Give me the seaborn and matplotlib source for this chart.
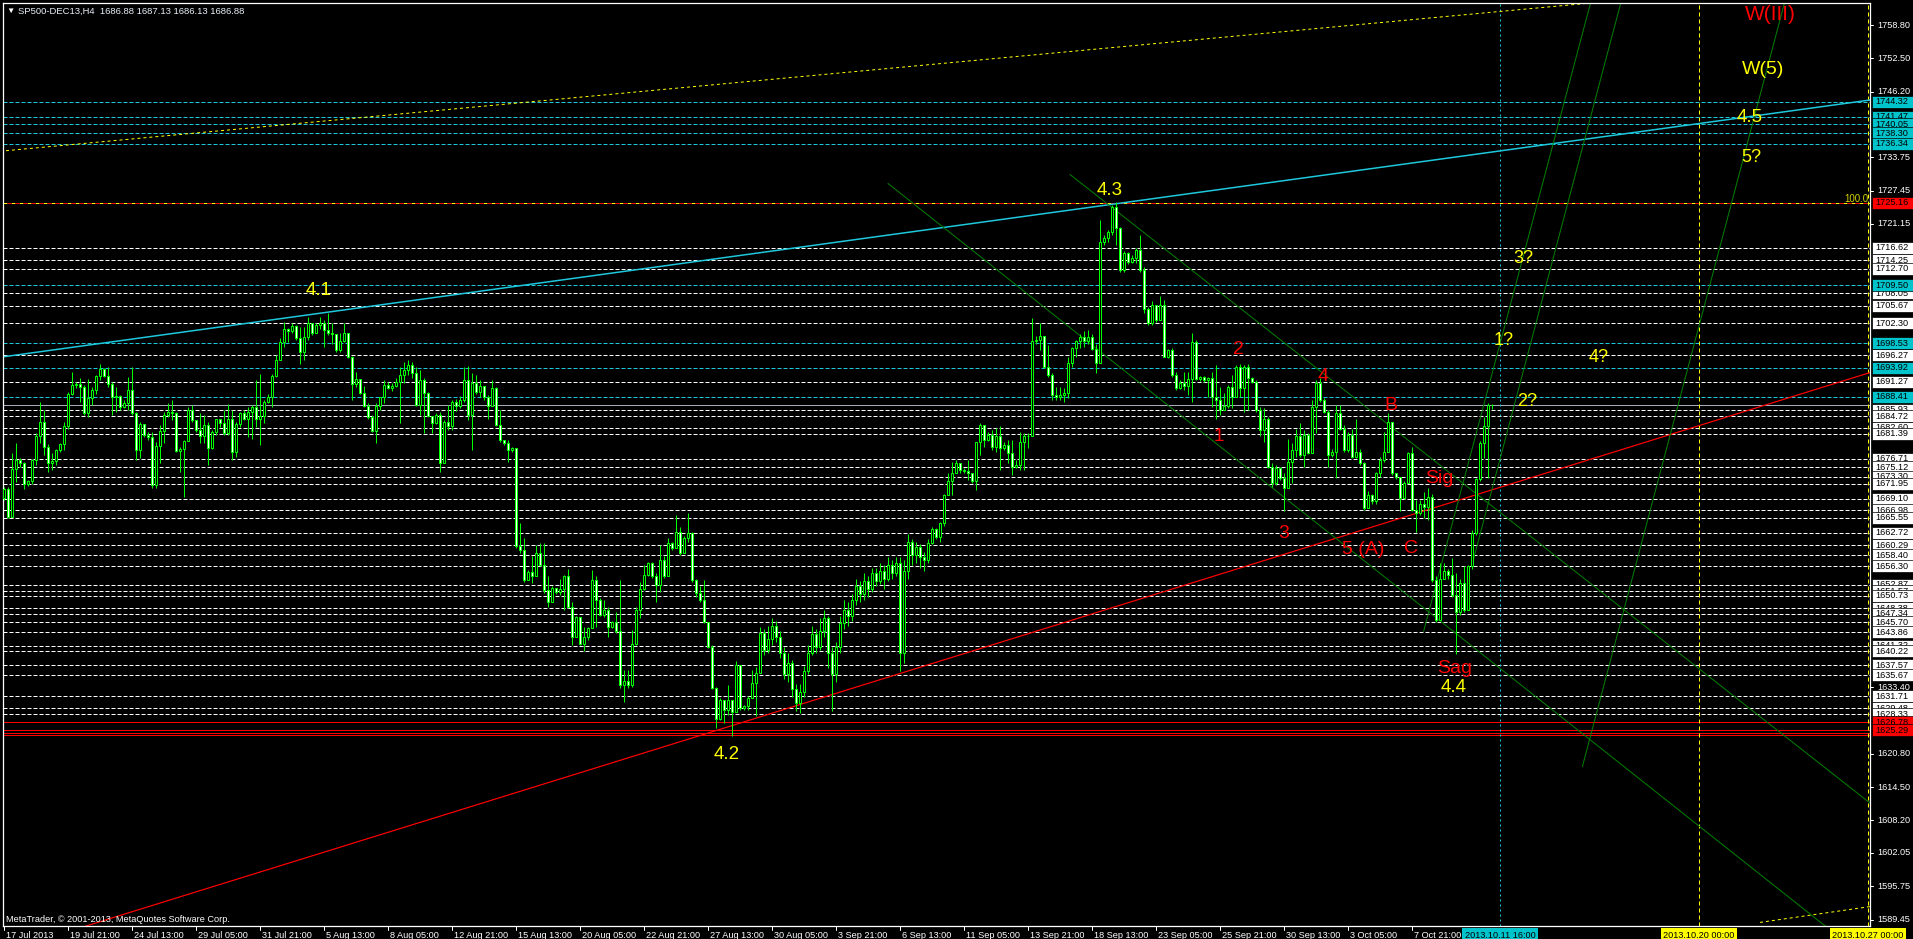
import numpy as np
import matplotlib
matplotlib.use("Agg")
import matplotlib.pyplot as plt
import matplotlib.transforms as mtransforms
from matplotlib.patches import Rectangle
import seaborn as sns

# SP500-DEC13 H4 bars (index = bar number from 17 Jul 2013 00:00)
first_open = 1669.2
close = [
    1670.9, 1665.7, 1674.7, 1676.4, 1675.8, 1671.9, 1672.5, 1676.4, 1681.0, 1683.7,
    1679.0, 1675.8, 1676.2, 1678.3, 1679.5, 1682.9, 1688.9, 1690.6, 1690.8, 1690.3,
    1685.4, 1688.2, 1689.7, 1692.3, 1693.6, 1692.4, 1690.8, 1688.3, 1688.5, 1686.5,
    1687.3, 1689.7, 1685.3, 1678.3, 1683.2, 1681.2, 1680.8, 1671.7, 1679.1, 1681.9,
    1685.0, 1685.6, 1685.3, 1678.2, 1678.6, 1680.1, 1685.9, 1684.0, 1682.1, 1681.0,
    1683.1, 1678.8, 1681.7, 1684.2, 1683.5, 1681.5, 1684.3, 1678.0, 1683.2, 1685.3,
    1684.3, 1685.6, 1686.5, 1684.3, 1684.8, 1687.5, 1688.3, 1692.3, 1695.4, 1698.7,
    1701.2, 1700.9, 1701.9, 1699.5, 1696.9, 1699.8, 1702.3, 1700.5, 1702.0, 1702.3,
    1701.0, 1700.4, 1700.3, 1697.3, 1699.0, 1700.4, 1695.9, 1690.8, 1691.7, 1689.2,
    1686.6, 1684.5, 1682.0, 1686.6, 1688.3, 1690.7, 1690.0, 1690.5, 1691.3, 1692.5,
    1693.5, 1694.5, 1693.0, 1686.9, 1691.6, 1689.1, 1684.7, 1683.4, 1685.0, 1675.8,
    1683.7, 1682.8, 1687.5, 1686.6, 1687.8, 1691.6, 1685.0, 1691.0, 1689.4, 1690.5,
    1688.3, 1686.6, 1690.0, 1683.1, 1680.2, 1679.7, 1678.3, 1678.7, 1660.1, 1659.4,
    1653.7, 1655.3, 1654.4, 1658.8, 1656.6, 1651.8, 1649.6, 1652.2, 1651.5, 1652.0,
    1654.4, 1648.7, 1643.0, 1646.8, 1641.7, 1643.0, 1644.6, 1653.7, 1649.9, 1647.1,
    1648.1, 1644.9, 1645.8, 1644.0, 1633.9, 1634.7, 1633.9, 1641.7, 1648.1, 1652.0,
    1654.7, 1656.9, 1654.4, 1652.8, 1657.5, 1654.4, 1660.7, 1659.7, 1662.9, 1658.8,
    1661.6, 1662.6, 1653.7, 1651.2, 1649.9, 1645.8, 1641.1, 1633.2, 1627.5, 1631.0,
    1629.1, 1631.0, 1628.8, 1637.6, 1629.4, 1629.8, 1631.3, 1634.2, 1636.1, 1643.6,
    1640.5, 1642.5, 1645.0, 1643.0, 1640.0, 1636.0, 1638.0, 1633.0, 1630.5, 1632.5,
    1636.5, 1640.0, 1643.5, 1641.0, 1644.0, 1646.5, 1640.0, 1636.0, 1641.0, 1645.5,
    1648.0, 1647.0, 1650.0, 1652.5, 1651.0, 1653.5, 1652.0, 1655.0, 1653.5, 1655.5,
    1654.0, 1656.5, 1655.0, 1657.0, 1640.0, 1655.5, 1661.0, 1658.5, 1660.0, 1658.0,
    1657.5, 1660.7, 1663.3, 1661.9, 1664.5, 1669.8, 1672.4, 1673.9, 1675.8, 1674.6,
    1674.4, 1673.9, 1672.4, 1679.9, 1683.1, 1680.3, 1681.2, 1679.0, 1680.9, 1678.7,
    1679.2, 1677.7, 1675.2, 1675.5, 1679.9, 1680.9, 1680.9, 1698.9, 1699.2, 1699.9,
    1694.1, 1692.5, 1688.8, 1688.4, 1688.8, 1689.1, 1694.8, 1697.6, 1698.9, 1699.8,
    1699.0, 1699.8, 1697.4, 1694.8, 1717.8, 1718.4, 1719.7, 1724.3, 1720.3, 1712.4,
    1715.6, 1714.0, 1714.6, 1716.2, 1712.4, 1705.0, 1702.3, 1705.8, 1702.9, 1705.8,
    1696.0, 1697.3, 1692.5, 1690.0, 1691.0, 1690.5, 1691.7, 1698.8, 1691.7, 1692.1,
    1691.6, 1691.9, 1688.4, 1687.8, 1686.0, 1686.7, 1690.2, 1688.4, 1694.1, 1690.0,
    1694.1, 1691.9, 1691.3, 1685.9, 1682.1, 1684.3, 1675.2, 1672.0, 1674.9, 1673.0,
    1671.1, 1676.1, 1678.3, 1681.0, 1677.4, 1681.2, 1677.8, 1686.5, 1691.0, 1687.8,
    1685.6, 1677.4, 1678.0, 1685.3, 1682.4, 1678.3, 1681.2, 1677.1, 1678.0, 1675.8,
    1667.3, 1669.8, 1668.6, 1673.9, 1676.4, 1678.0, 1683.7, 1673.9, 1673.3, 1669.2,
    1672.0, 1677.7, 1667.0, 1666.4, 1668.2, 1667.6, 1669.5, 1653.7, 1646.2, 1654.0,
    1655.5, 1654.7, 1650.9, 1647.7, 1653.2, 1648.0, 1656.3, 1662.6, 1672.8, 1679.6,
    1682.8, 1686.9, 1686.88,
]
high = [
    1671.4, 1671.4, 1677.7, 1679.6, 1676.9, 1676.1, 1672.6, 1676.7, 1681.5, 1687.5,
    1685.9, 1679.5, 1677.7, 1678.6, 1679.7, 1683.7, 1689.4, 1693.1, 1691.3, 1691.9,
    1690.6, 1691.8, 1690.3, 1692.5, 1694.6, 1693.8, 1694.0, 1691.3, 1690.3, 1688.7,
    1687.8, 1692.2, 1694.1, 1685.6, 1683.7, 1682.7, 1681.8, 1681.8, 1679.9, 1683.1,
    1685.6, 1687.2, 1687.8, 1685.6, 1679.0, 1680.3, 1686.5, 1686.8, 1684.0, 1685.3,
    1685.0, 1683.7, 1682.2, 1684.3, 1684.0, 1685.9, 1687.0, 1686.0, 1683.7, 1685.6,
    1685.9, 1686.5, 1686.8, 1691.6, 1692.8, 1687.8, 1689.0, 1692.8, 1696.3, 1699.5,
    1702.6, 1701.5, 1702.3, 1702.0, 1701.7, 1701.7, 1703.6, 1701.0, 1702.4, 1703.6,
    1702.9, 1704.2, 1702.3, 1700.1, 1700.4, 1702.4, 1700.5, 1696.1, 1693.1, 1691.7,
    1690.4, 1687.2, 1685.0, 1687.2, 1688.4, 1691.6, 1691.2, 1691.0, 1692.0, 1694.0,
    1695.0, 1695.3, 1695.0, 1694.0, 1693.5, 1692.0, 1689.4, 1683.7, 1685.3, 1685.6,
    1684.0, 1686.9, 1687.8, 1688.0, 1688.5, 1694.0, 1694.2, 1693.0, 1692.5, 1691.6,
    1689.0, 1688.8, 1691.6, 1690.3, 1685.9, 1680.2, 1680.2, 1679.0, 1678.4, 1664.5,
    1661.6, 1655.6, 1658.2, 1660.4, 1660.8, 1660.7, 1654.4, 1652.5, 1652.2, 1654.0,
    1654.7, 1655.9, 1649.6, 1647.0, 1646.5, 1644.9, 1644.9, 1655.6, 1654.4, 1650.3,
    1649.9, 1648.7, 1646.0, 1647.7, 1653.7, 1636.7, 1636.7, 1644.3, 1648.7, 1653.4,
    1656.6, 1657.2, 1657.2, 1655.0, 1660.4, 1658.2, 1661.6, 1661.0, 1666.0, 1663.8,
    1662.0, 1666.4, 1662.9, 1654.0, 1652.5, 1653.7, 1645.8, 1641.4, 1633.5, 1631.3,
    1630.1, 1633.9, 1629.1, 1638.3, 1637.6, 1630.1, 1631.7, 1636.7, 1637.3, 1644.9,
    1644.5, 1645.0, 1646.5, 1646.0, 1644.0, 1641.0, 1640.0, 1638.5, 1634.0, 1634.0,
    1637.5, 1641.5, 1645.0, 1644.5, 1646.5, 1648.0, 1647.0, 1641.0, 1642.0, 1647.0,
    1650.0, 1649.5, 1651.0, 1654.0, 1653.5, 1655.0, 1654.5, 1656.0, 1656.0, 1657.0,
    1656.5, 1658.0, 1657.5, 1658.0, 1658.0, 1657.5, 1662.5, 1661.5, 1661.0, 1660.5,
    1659.0, 1661.5, 1663.8, 1663.5, 1664.8, 1670.0, 1673.9, 1676.1, 1676.5, 1675.5,
    1675.0, 1676.5, 1674.0, 1679.9, 1683.4, 1682.8, 1681.8, 1682.1, 1682.5, 1682.8,
    1679.8, 1680.2, 1680.2, 1676.5, 1681.8, 1681.5, 1681.5, 1703.3, 1700.0, 1702.3,
    1700.0, 1698.2, 1692.9, 1690.3, 1690.3, 1690.0, 1696.0, 1697.9, 1699.2, 1700.3,
    1700.8, 1701.1, 1700.3, 1698.5, 1721.9, 1719.0, 1720.0, 1724.7, 1725.2, 1720.6,
    1716.0, 1715.9, 1715.2, 1716.5, 1719.0, 1713.0, 1705.5, 1706.5, 1705.8, 1707.5,
    1706.7, 1697.5, 1697.6, 1693.2, 1691.5, 1693.2, 1693.2, 1700.4, 1699.2, 1692.3,
    1692.4, 1692.2, 1693.2, 1694.4, 1690.3, 1689.1, 1690.7, 1692.5, 1694.4, 1694.7,
    1694.4, 1694.7, 1692.2, 1691.5, 1686.5, 1686.2, 1684.5, 1675.8, 1675.5, 1675.2,
    1673.9, 1680.5, 1679.6, 1682.4, 1683.4, 1682.1, 1681.5, 1687.8, 1691.6, 1691.9,
    1688.1, 1685.9, 1678.5, 1686.9, 1686.9, 1683.1, 1681.8, 1682.4, 1684.3, 1678.5,
    1676.1, 1670.5, 1670.0, 1674.2, 1677.1, 1681.8, 1685.3, 1676.4, 1674.0, 1673.3,
    1672.5, 1678.0, 1679.0, 1668.9, 1668.9, 1670.4, 1671.1, 1670.1, 1654.4, 1656.9,
    1656.9, 1655.8, 1657.8, 1655.0, 1654.0, 1656.3, 1656.6, 1663.2, 1673.0, 1680.0,
    1684.6, 1687.2, 1687.13,
]
low = [
    1668.9, 1665.4, 1665.7, 1672.3, 1675.2, 1670.9, 1671.5, 1671.9, 1675.5, 1679.6,
    1677.4, 1674.2, 1674.5, 1675.5, 1678.0, 1678.3, 1682.4, 1688.7, 1690.0, 1687.5,
    1684.9, 1684.6, 1686.8, 1689.0, 1691.6, 1692.1, 1690.3, 1684.9, 1685.6, 1685.9,
    1686.2, 1685.9, 1684.9, 1676.4, 1676.9, 1680.8, 1680.2, 1671.1, 1671.1, 1675.8,
    1679.6, 1684.6, 1684.0, 1678.0, 1674.2, 1669.5, 1680.2, 1683.7, 1681.8, 1679.6,
    1679.6, 1675.5, 1678.6, 1681.2, 1682.7, 1681.2, 1681.2, 1676.4, 1677.1, 1682.7,
    1684.0, 1680.8, 1680.5, 1682.7, 1679.3, 1683.4, 1687.2, 1686.5, 1692.2, 1695.4,
    1697.9, 1698.8, 1700.5, 1699.1, 1694.7, 1695.4, 1699.1, 1700.1, 1700.4, 1701.3,
    1697.9, 1700.1, 1698.5, 1696.9, 1696.9, 1698.8, 1695.7, 1687.8, 1690.3, 1689.0,
    1686.5, 1684.3, 1681.8, 1679.6, 1685.9, 1687.2, 1689.8, 1689.6, 1690.3, 1683.4,
    1691.0, 1692.5, 1692.0, 1686.6, 1685.0, 1681.5, 1684.5, 1681.5, 1683.2, 1674.2,
    1675.8, 1682.1, 1682.1, 1685.8, 1686.3, 1687.5, 1684.0, 1678.4, 1689.0, 1688.4,
    1687.9, 1684.3, 1686.9, 1682.8, 1679.9, 1679.3, 1676.1, 1678.0, 1659.7, 1658.8,
    1653.4, 1654.4, 1653.1, 1654.4, 1656.3, 1651.2, 1648.7, 1649.6, 1651.0, 1650.9,
    1648.1, 1648.4, 1641.4, 1643.3, 1641.4, 1640.2, 1642.4, 1644.6, 1644.9, 1647.0,
    1646.8, 1643.0, 1644.6, 1643.6, 1633.2, 1630.7, 1633.2, 1633.5, 1641.4, 1646.5,
    1651.8, 1654.4, 1654.1, 1649.6, 1651.5, 1654.1, 1657.2, 1659.4, 1659.7, 1658.5,
    1659.0, 1661.0, 1653.4, 1650.6, 1649.6, 1645.5, 1640.8, 1633.0, 1625.7, 1627.2,
    1626.6, 1628.2, 1624.1, 1629.1, 1629.1, 1629.1, 1629.1, 1631.3, 1627.9, 1636.1,
    1639.5, 1640.0, 1641.5, 1642.0, 1639.0, 1635.0, 1634.5, 1631.5, 1629.0, 1628.5,
    1631.5, 1636.0, 1639.5, 1640.0, 1640.5, 1643.0, 1637.0, 1629.0, 1634.5, 1640.0,
    1644.5, 1645.0, 1646.0, 1649.0, 1649.5, 1650.0, 1650.5, 1651.5, 1652.5, 1653.0,
    1652.0, 1653.5, 1654.0, 1654.5, 1636.5, 1638.0, 1654.0, 1656.5, 1657.0, 1656.0,
    1655.5, 1657.0, 1660.5, 1661.5, 1661.0, 1664.0, 1669.8, 1669.8, 1674.2, 1674.0,
    1673.9, 1672.7, 1672.0, 1670.8, 1677.4, 1679.0, 1680.0, 1678.4, 1678.0, 1674.6,
    1678.3, 1675.8, 1673.6, 1675.0, 1674.6, 1674.6, 1678.7, 1691.9, 1698.5, 1697.3,
    1693.8, 1692.2, 1687.8, 1687.8, 1687.8, 1687.5, 1688.1, 1694.1, 1696.0, 1697.6,
    1697.9, 1698.5, 1697.3, 1692.9, 1694.8, 1717.2, 1717.8, 1719.0, 1717.2, 1712.1,
    1712.0, 1713.5, 1713.8, 1713.7, 1712.0, 1704.2, 1702.0, 1702.0, 1702.5, 1703.0,
    1696.0, 1695.8, 1692.2, 1689.7, 1689.8, 1689.7, 1688.8, 1687.5, 1691.6, 1691.4,
    1691.3, 1688.4, 1686.5, 1684.3, 1684.9, 1685.9, 1686.2, 1686.2, 1688.4, 1688.4,
    1685.6, 1685.9, 1691.0, 1685.6, 1680.9, 1679.9, 1675.0, 1671.4, 1671.8, 1672.7,
    1666.7, 1671.1, 1672.0, 1677.1, 1677.1, 1675.2, 1677.5, 1677.7, 1681.5, 1687.5,
    1685.3, 1675.2, 1677.0, 1673.0, 1682.1, 1678.0, 1678.0, 1676.8, 1676.8, 1675.5,
    1667.0, 1667.5, 1668.2, 1668.2, 1673.3, 1676.1, 1681.2, 1673.6, 1672.9, 1666.7,
    1669.0, 1672.0, 1666.7, 1662.9, 1666.0, 1665.4, 1665.1, 1653.4, 1645.8, 1647.4,
    1654.0, 1654.0, 1650.6, 1639.8, 1647.1, 1647.7, 1653.7, 1655.9, 1662.3, 1672.5,
    1676.8, 1673.0, 1686.13,
]

# time axis (one label every 16 bars)
time_labels = ["17 Jul 2013", "19 Jul 21:00", "24 Jul 13:00", "29 Jul 05:00", "31 Jul 21:00",
               "5 Aug 13:00", "8 Aug 05:00", "12 Aug 21:00", "15 Aug 13:00", "20 Aug 05:00",
               "22 Aug 21:00", "27 Aug 13:00", "30 Aug 05:00", "3 Sep 21:00", "6 Sep 13:00",
               "11 Sep 05:00", "13 Sep 21:00", "18 Sep 13:00", "23 Sep 05:00", "25 Sep 21:00",
               "30 Sep 13:00", "3 Oct 05:00", "7 Oct 21:00"]
vline_bars = [374, 423.75, 466]
vline_labels = ["2013.10.11 16:00", "2013.10.20 00:00", "2013.10.27 00:00"]
vline_colors = ["#00c4cc", "#ffff00", "#ffff00"]

# price axis
price_ticks = [1758.80, 1752.50, 1746.20, 1733.75, 1727.45, 1721.15, 1633.40,
               1620.80, 1614.50, 1608.20, 1602.05, 1595.75, 1589.45]
cyan_levels = [1744.32, 1741.47, 1740.05, 1738.30, 1736.34, 1709.50, 1698.53, 1693.92, 1688.41]
white_levels = [1716.62, 1714.25, 1712.70, 1708.05, 1705.67, 1702.30, 1696.27, 1691.27,
                1685.93, 1684.72, 1682.60, 1681.39, 1676.71, 1675.12, 1673.30, 1671.95,
                1669.10, 1666.98, 1665.55, 1662.72, 1660.29, 1658.40, 1656.30, 1652.87,
                1651.57, 1650.73, 1648.38, 1647.34, 1645.70, 1643.86, 1641.32, 1640.22,
                1637.57, 1635.67, 1631.71, 1629.48, 1628.33]
red_levels = [1626.78, 1625.29]
red_extra = [1624.80, 1624.30]
fib_level = 1725.16
bid = 1686.88

# trend lines (bar, price) pairs
cyan_tl = ([-1, 466.5], [1695.9, 1744.6])
red_tl = ([0, 466.5], [1583.4, 1693.0])
yellow_top = ([-1, 466.5], [1734.9, 1767.9])
yellow_bot = ([439, 466.5], [1588.9, 1591.9])
green_a = ([266.5, 466.5], [1730.5, 1611.5])
green_b = ([221, 466.5], [1728.8, 1581.5])
green_c = ([354.9, 397], [1644.0, 1764.0])
green_d = ([367.35, 407], [1657.6, 1771.0])
green_e = ([394.6, 446], [1618.4, 1765.5])

# wave labels
wave_text = ["4.1", "4.2", "4.3", "4.4", "W(5)", "4.5", "5?", "3?", "1?", "2?", "4?",
             "1", "2", "3", "4", "5 (A)", "B", "C", "Sig", "Sag", "W(III)"]
wave_x = [78.6, 180.7, 276.5, 362.5, 439.8, 436.5, 436.8, 379.8, 374.8, 380.75, 398.6,
          303.8, 308.7, 319.8, 329.7, 339.7, 346.75, 351.7, 358.75, 362.75, 441.7]
wave_y = [1708.5, 1620.6, 1727.4, 1633.4, 1750.3, 1741.2, 1733.8, 1714.6, 1699.1, 1687.5, 1695.9,
          1680.9, 1697.4, 1662.6, 1692.3, 1659.5, 1686.7, 1659.7, 1673.0, 1637.0, 1760.8]
wave_color = ["#ffff00"] * 11 + ["#ff0000"] * 10
wave_size = [13.5, 13.5, 13.5, 13.5, 14, 13.5, 13, 13, 13, 13, 13,
             13.5, 14, 14, 14, 14, 14, 14, 14, 14, 15]

sns.set_theme(style="dark", rc={"axes.facecolor": "black", "figure.facecolor": "black"})
plt.rcParams['font.family'] = ['Liberation Sans', 'DejaVu Sans']

W, H = 1913, 939
fig = plt.figure(figsize=(W / 100, H / 100), dpi=100, facecolor='black')
ax = fig.add_axes([3 / W, 13 / H, 1867 / W, 923 / H])
ax.set_facecolor('black')
ax.set_xlim(-0.25, 466.5)
ax.set_ylim(1588.22, 1762.97)
ax.set_xticks([])
ax.set_yticks([])
for sp in ax.spines.values():
    sp.set_color('white')
    sp.set_linewidth(0.9)

px = 0.72  # one pixel in points

# horizontal levels
for lv in white_levels:
    ax.axhline(lv, color='white', lw=px, linestyle=(0, (4, 2)), zorder=1)
for lv in cyan_levels:
    ax.axhline(lv, color='#1ec8dc', lw=px, linestyle=(0, (4, 2)), zorder=1)
for lv in red_levels + red_extra:
    ax.axhline(lv, color='#ff0000', lw=px, zorder=1)
ax.axhline(fib_level, color='#ffff00', lw=px, linestyle=(0, (4, 4)), zorder=1)
ax.axhline(fib_level, color='#ff0000', lw=px, linestyle=(4, (4, 4)), zorder=1)
ax.axhline(bid, color='#a3acb9', lw=px, zorder=1)

# vertical time lines
ax.axvline(vline_bars[0], color='#1ec8dc', lw=px, linestyle=(0, (2, 3)), zorder=1)
ax.axvline(vline_bars[1], color='#ffff00', lw=px, linestyle=(0, (4, 3)), zorder=1)
ax.axvline(vline_bars[2], color='#ffff00', lw=px, linestyle=(0, (4, 3)), zorder=1)

# trend lines
def tline(line, color, lw=px, ls='-'):
    sns.lineplot(x=line[0], y=line[1], ax=ax, color=color, lw=lw, linestyle=ls,
                 sort=False, zorder=2)

tline(cyan_tl, '#1ec8dc', lw=1.1)
tline(red_tl, '#ff0000', lw=px * 1.2)
tline(yellow_top, '#ffff00', ls=(0, (3, 3)))
tline(yellow_bot, '#ffff00', ls=(0, (3, 3)))
for g in (green_a, green_b, green_c, green_d, green_e):
    tline(g, '#008000')

# candles
c = np.array(close)
op = np.r_[first_open, c[:-1]]
hi = np.maximum(np.array(high), np.maximum(op, c))
lo = np.minimum(np.array(low), np.minimum(op, c))
idx = np.arange(len(c))
up = c >= op
ax.vlines(idx, lo, hi, color='#00ff00', lw=px, zorder=4)
ax.bar(idx[up], np.maximum(c - op, 0.15)[up], bottom=op[up], width=0.66,
       color='black', edgecolor='#00ff00', linewidth=px, zorder=5)
ax.bar(idx[~up], (op - c)[~up], bottom=c[~up], width=0.66,
       color='white', edgecolor='#00ff00', linewidth=px, zorder=5)

# wave count labels
for s, x, y, col, fs in zip(wave_text, wave_x, wave_y, wave_color, wave_size):
    ax.text(x, y, s, color=col, fontsize=fs, ha='center', va='center', zorder=7)

ax.text(466, 1725.86, "100.0", color='#d4d400', fontsize=7, ha='right', va='center', zorder=7)

# right price scale
ty = mtransforms.blended_transform_factory(ax.transAxes, ax.transData)
ax_w = 1867.0
for p in price_ticks:
    ax.plot([1.0, 1.0 + 3 / ax_w], [p, p], color='white', lw=px, transform=ty, clip_on=False)
    ax.text(1.0 + 7 / ax_w, p, f"{p:.2f}", color='white', fontsize=6.6, ha='left',
            va='center', transform=ty, clip_on=False)

box_h = 12 / 5.282
z = [8]
def price_box(p, fc):
    # each new box covers the ones drawn before it, as on the terminal
    ax.add_patch(Rectangle((1.0 + 2 / ax_w, p - box_h / 2), 41 / ax_w, box_h, transform=ty,
                           facecolor=fc, edgecolor='black', lw=0.5, clip_on=False, zorder=z[0]))
    ax.text(1.0 + 5 / ax_w, p, f"{p:.2f}", color='black', fontsize=6.6, ha='left',
            va='center', transform=ty, clip_on=False, zorder=z[0] + 0.5)
    z[0] += 1

for p in white_levels:
    price_box(p, 'white')
for p in cyan_levels:
    price_box(p, '#00c4cc')
price_box(fib_level, '#ff0000')
for p in red_levels:
    price_box(p, '#ff0000')

# bottom time scale
tx = mtransforms.blended_transform_factory(ax.transData, ax.transAxes)
for k, lab in enumerate(time_labels):
    b = 16 * k
    ax.plot([b, b], [0, -4 / 923], color='white', lw=px, transform=tx, clip_on=False)
    ax.text(b + 0.4, -9 / 923, lab, color='white', fontsize=6.6, ha='left', va='center',
            transform=tx, clip_on=False)
for b, lab, col in zip(vline_bars, vline_labels, vline_colors):
    ax.text(b, -9 / 923, lab, color='black', fontsize=6.6, ha='center', va='center',
            transform=tx, clip_on=False, zorder=80,
            bbox=dict(boxstyle='square,pad=0.25', fc=col, ec='none'))

fig.text(10 / W, 1 - 11 / H, "\u25bc", color='white', fontsize=6, ha='center', va='center')
fig.text(18 / W, 1 - 11 / H, "SP500-DEC13,H4  1686.88 1687.13 1686.13 1686.88",
         color='#e8f0f8', fontsize=6.8, ha='left', va='center')
fig.text(6 / W, 1 - 919 / H, "MetaTrader, \u00a9 2001-2013, MetaQuotes Software Corp.",
         color='white', fontsize=6.6, ha='left', va='center')

fig.savefig('out.png', dpi=100, facecolor='black')
